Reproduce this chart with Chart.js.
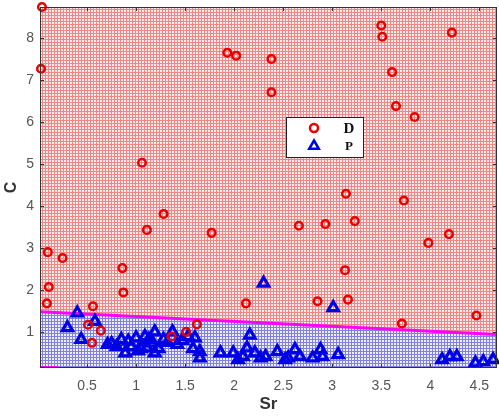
<!DOCTYPE html>
<html>
<head>
<meta charset="utf-8">
<script src="https://cdn.jsdelivr.net/npm/chart.js@4/dist/chart.umd.min.js"></script>
<style>
  html, body { margin: 0; padding: 0; background: #fff; }
  #wrap { width: 499px; height: 418px; }
</style>
</head>
<body>
<div id="wrap"><canvas id="chart" width="499" height="418"></canvas></div>
<script>
// Axis ranges and tick labels
const xRange = [0.02, 4.68]
const yRange = [0.14, 8.74]
const xTicks = [0.5, 1, 1.5, 2, 2.5, 3, 3.5, 4, 4.5]
const yTicks = [1, 2, 3, 4, 5, 6, 7, 8]

// Class D (red circles)
const dSr = [0.04, 0.03, 0.10, 0.11, 0.09, 0.25, 0.86, 0.87, 0.56, 1.06, 1.11, 1.28, 1.77, 2.12,
  0.51, 0.64, 0.55, 1.36, 1.51, 1.62, 1.93, 2.02, 2.38, 2.38, 3.50, 3.51, 4.22, 3.61, 3.65, 3.84,
  3.14, 3.73, 2.66, 2.93, 3.23, 3.98, 4.19, 3.13, 2.85, 3.16, 4.47, 3.71]
const dC = [8.74, 7.27, 2.9, 2.07, 1.68, 2.76, 2.52, 1.94, 1.61, 5.03, 3.43, 3.81, 3.36, 1.68,
  1.17, 1.03, 0.74, 0.89, 1.0, 1.18, 7.65, 7.58, 7.5, 6.71, 8.3, 8.03, 8.13, 7.19, 6.38, 6.12,
  4.29, 4.13, 3.53, 3.57, 3.64, 3.12, 3.33, 2.47, 1.73, 1.77, 1.39, 1.2]

// Class P (blue triangles)
const pSr = [2.30, 3.01, 0.40, 0.30, 0.44, 0.58, 0.71, 0.75, 0.80, 0.85, 0.89, 0.92, 0.95, 1.0,
  1.02, 1.05, 1.09, 1.11, 1.13, 1.17, 1.19, 1.19, 1.23, 1.28, 1.32, 1.37, 1.42, 1.47, 1.53, 1.58,
  1.60, 1.65, 1.65, 1.86, 1.99, 2.04, 2.09, 2.13, 2.16, 2.21, 2.27, 2.32, 2.44, 2.52, 2.55, 2.62,
  2.67, 2.80, 2.88, 2.90, 3.06, 4.12, 4.20, 4.27, 4.46, 4.54, 4.64]
const pC = [2.16, 1.58, 1.45, 1.1, 0.82, 1.25, 0.70, 0.72, 0.65, 0.82, 0.5, 0.78, 0.65, 0.86,
  0.55, 0.6, 0.89, 0.62, 0.82, 0.74, 1.0, 0.5, 0.6, 0.82, 0.75, 1.0, 0.7, 0.8, 0.89, 0.6,
  0.86, 0.53, 0.38, 0.5, 0.5, 0.34, 0.41, 0.62, 0.92, 0.5, 0.38, 0.41, 0.53, 0.34, 0.38, 0.58,
  0.41, 0.38, 0.58, 0.41, 0.46, 0.34, 0.41, 0.41, 0.26, 0.29, 0.34]

// Decision boundary (magenta)
const boundSr = [0.02, 4.68]
const boundC = [1.48, 0.94]
const tailSr = [0.02, 0.2]
const tailC = [0.15, 0.15]

const toPoints = (xs, ys) => xs.map((x, i) => ({ x: x, y: ys[i] }))

// Small hatch tile like the dotted matlab fill
const makePattern = (line, bg) => {
  const tile = document.createElement("canvas")
  tile.width = 3
  tile.height = 3
  const t = tile.getContext("2d")
  t.fillStyle = bg
  t.fillRect(0, 0, 3, 3)
  t.fillStyle = line
  t.fillRect(0, 0, 3, 1)
  t.fillRect(0, 0, 1, 3)
  return t.createPattern(tile, "repeat")
}

const ctx = document.getElementById("chart").getContext("2d")
const redFill = makePattern("rgb(238,135,135)", "rgb(253,236,234)")
const blueFill = makePattern("rgb(128,128,222)", "rgb(238,238,253)")

// Box, inside ticks and legend drawn on top
const framePlugin = {
  id: "frame",
  afterDraw(chart) {
    const { ctx, chartArea: a, scales } = chart
    ctx.save()
    ctx.strokeStyle = "#333"
    ctx.lineWidth = 1
    ctx.strokeRect(a.left + 0.5, a.top + 0.5, a.right - a.left - 1, a.bottom - a.top - 1)
    ctx.beginPath()
    xTicks.forEach((v) => {
      const px = Math.round(scales.x.getPixelForValue(v)) + 0.5
      ctx.moveTo(px, a.bottom); ctx.lineTo(px, a.bottom - 4)
      ctx.moveTo(px, a.top); ctx.lineTo(px, a.top + 4)
    })
    yTicks.forEach((v) => {
      const py = Math.round(scales.y.getPixelForValue(v)) + 0.5
      ctx.moveTo(a.left, py); ctx.lineTo(a.left + 4, py)
      ctx.moveTo(a.right, py); ctx.lineTo(a.right - 4, py)
    })
    ctx.stroke()

    // legend box
    const bx = a.left + 246, by = a.top + 110, bw = 77, bh = 40
    ctx.fillStyle = "#fff"
    ctx.fillRect(bx, by, bw, bh)
    ctx.strokeStyle = "#222"
    ctx.strokeRect(bx + 0.5, by + 0.5, bw, bh)
    const items = chart.data.datasets.filter((d) => d.legend)
    items.forEach((d, i) => {
      const cy = by + 11 + i * 18
      ctx.lineWidth = 2.5
      ctx.strokeStyle = d.borderColor
      ctx.beginPath()
      if (d.pointStyle === "circle") {
        ctx.arc(bx + 28, cy, 4, 0, Math.PI * 2)
      } else {
        const r = 5.5
        ctx.moveTo(bx + 28, cy - r)
        ctx.lineTo(bx + 28 + r * 0.87, cy + r * 0.5)
        ctx.lineTo(bx + 28 - r * 0.87, cy + r * 0.5)
        ctx.closePath()
      }
      ctx.stroke()
      ctx.fillStyle = "#111"
      ctx.font = "bold " + (i === 0 ? 15 : 13) + "px 'Liberation Serif', serif"
      ctx.textAlign = "center"
      ctx.textBaseline = "middle"
      ctx.fillText(d.label, bx + 63, cy + 1)
    })
    ctx.restore()
  },
}

new Chart(ctx, {
  type: "scatter",
  data: {
    datasets: [
      {
        label: "D",
        legend: true,
        data: toPoints(dSr, dC),
        pointStyle: "circle",
        pointRadius: 3.8,
        borderWidth: 2.5,
        borderColor: "rgb(235,0,0)",
        backgroundColor: "rgba(0,0,0,0)",
        clip: false,
        order: 1,
      },
      {
        label: "P",
        legend: true,
        data: toPoints(pSr, pC),
        pointStyle: "triangle",
        pointRadius: 6,
        borderWidth: 3.2,
        borderColor: "rgb(0,0,230)",
        backgroundColor: "rgba(0,0,0,0)",
        clip: false,
        order: 2,
      },
      {
        label: "boundary",
        data: toPoints(boundSr, boundC),
        showLine: true,
        pointRadius: 0,
        borderWidth: 3,
        borderColor: "#ff00ff",
        backgroundColor: redFill,
        fill: "end",
        order: 3,
      },
      {
        label: "lower",
        data: toPoints(boundSr, boundC),
        showLine: true,
        pointRadius: 0,
        borderWidth: 0,
        borderColor: "rgba(0,0,0,0)",
        backgroundColor: blueFill,
        fill: "start",
        order: 4,
      },
      {
        label: "tail",
        data: toPoints(tailSr, tailC),
        showLine: true,
        pointRadius: 0,
        borderWidth: 3,
        borderColor: "#ff00ff",
        fill: false,
        order: 2.5,
      },
    ],
  },
  options: {
    responsive: false,
    animation: false,
    events: [],
    layout: { autoPadding: false, padding: { top: 7, right: 2, left: 0, bottom: 0 } },
    plugins: {
      legend: { display: false },
      tooltip: { enabled: false },
    },
    scales: {
      x: {
        type: "linear",
        min: xRange[0],
        max: xRange[1],
        afterBuildTicks: (s) => { s.ticks = xTicks.map((v) => ({ value: v })) },
        afterFit: (s) => {
          s.height = 50
          s.paddingLeft = 0
          s.paddingRight = 0
        },
        grid: { display: false, drawTicks: false },
        border: { display: false },
        ticks: {
          padding: 10,
          color: "#555",
          font: { family: "'Liberation Sans', Arial, sans-serif", size: 14 },
          callback: (v) => String(v),
        },
        title: {
          display: true,
          text: "Sr",
          color: "#333",
          padding: { top: 0, bottom: 3 },
          font: { family: "'Liberation Sans', Arial, sans-serif", size: 17, weight: "bold" },
        },
      },
      y: {
        type: "linear",
        min: yRange[0],
        max: yRange[1],
        afterBuildTicks: (s) => { s.ticks = yTicks.map((v) => ({ value: v })) },
        afterFit: (s) => {
          s.width = 40
          s.paddingTop = 0
          s.paddingBottom = 0
        },
        grid: { display: false, drawTicks: false },
        border: { display: false },
        ticks: {
          padding: 6,
          color: "#555",
          font: { family: "'Liberation Sans', Arial, sans-serif", size: 14 },
          callback: (v) => String(v),
        },
        title: {
          display: true,
          text: "C",
          color: "#333",
          padding: { top: 2, bottom: 0 },
          font: { family: "'Liberation Sans', Arial, sans-serif", size: 16, weight: "bold" },
        },
      },
    },
  },
  plugins: [framePlugin],
})
</script>
</body>
</html>
